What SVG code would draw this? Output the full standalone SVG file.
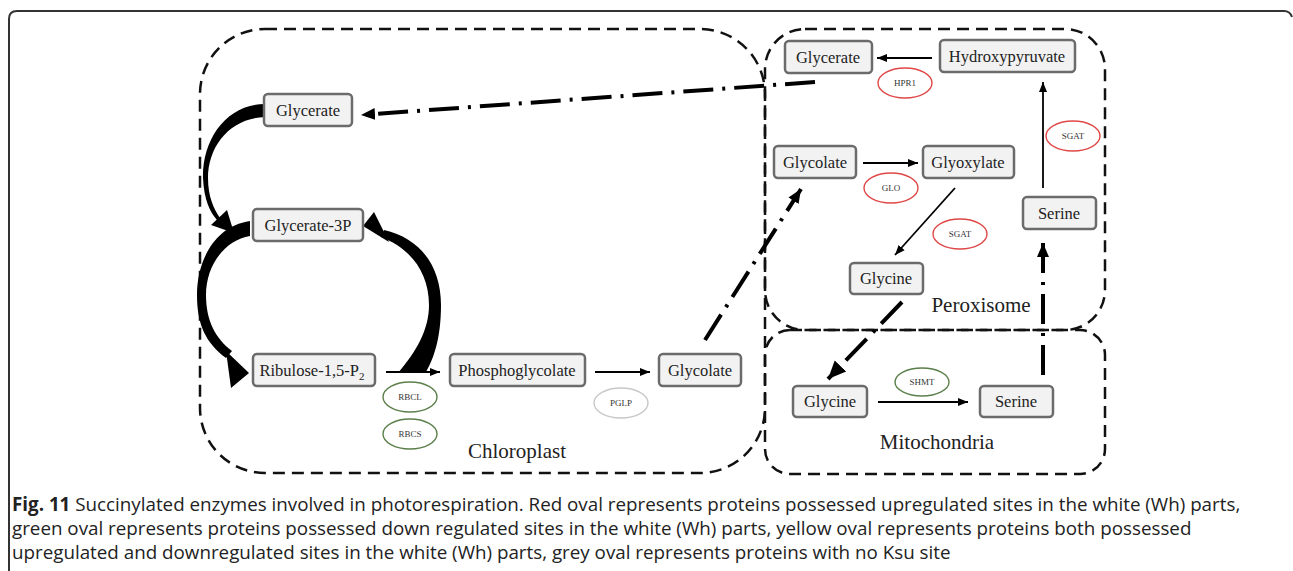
<svg xmlns="http://www.w3.org/2000/svg" width="1293" height="571" viewBox="0 0 1293 571">
<style>
.box{fill:#f2f2f2;stroke:#6b6b6b;stroke-width:2.5}
.bt{font-family:"Liberation Serif","Times New Roman",serif;font-size:16.5px;fill:#222;text-anchor:middle}
.region{fill:none;stroke:#111;stroke-width:2.5;stroke-dasharray:12 7}
.rl{font-family:"Liberation Serif","Times New Roman",serif;font-size:21px;fill:#222;text-anchor:middle}
.thin{fill:none;stroke:#000;stroke-width:1.8}
.dd{fill:none;stroke:#000;stroke-width:4;stroke-dasharray:30 9 3 9}
.red{fill:#fff;stroke:#e04848;stroke-width:1.4}
.green{fill:#fff;stroke:#5b7f4a;stroke-width:1.4}
.grey{fill:#fff;stroke:#c8c8c8;stroke-width:1.4}
.el{font-family:"Liberation Serif","Times New Roman",serif;font-size:9px;fill:#333;text-anchor:middle}
.cap{font-family:"Open Sans","Noto Sans","Liberation Sans",sans-serif;font-size:18.8px;fill:#222}
</style>
<defs>
<marker id="ah" markerUnits="userSpaceOnUse" markerWidth="12" markerHeight="10" refX="10" refY="5" orient="auto">
<path d="M0,1 L10,5 L0,9 Z" fill="#000"/>
</marker>
<marker id="ahd" markerUnits="userSpaceOnUse" markerWidth="16" markerHeight="14" refX="14" refY="7" orient="auto">
<path d="M0,1 L14,7 L0,13 Z" fill="#000"/>
</marker>
<marker id="ahd2" markerUnits="userSpaceOnUse" markerWidth="20" markerHeight="18" refX="18" refY="9" orient="auto">
<path d="M0,1 L18,9 L0,17 Z" fill="#000"/>
</marker>
</defs>
<rect width="1293" height="571" fill="#fff"/>
<path d="M9,571 L9,19 Q9,11 17,11 L1284,11 Q1290,11 1292,17" fill="none" stroke="#333" stroke-width="2"/>

<g id="regions">
<rect id="chloroplast" class="region" x="200" y="29" width="565" height="444" rx="65"/>
<rect id="peroxisome" class="region" x="765" y="29" width="340" height="301" rx="40"/>
<rect id="mitochondria" class="region" x="765" y="330" width="340" height="144" rx="25"/>
<text class="rl" x="517" y="458">Chloroplast</text>
<text class="rl" x="981" y="312">Peroxisome</text>
<text class="rl" x="937" y="449">Mitochondria</text>
</g>

<g id="connectors">
<path class="thin" d="M386,372 L440,372" marker-end="url(#ah)"/>
<path class="thin" d="M595,372 L650,372" marker-end="url(#ah)"/>
<path class="thin" d="M932,58 L877,58" marker-end="url(#ah)"/>
<path class="thin" d="M863,163 L918,163" marker-end="url(#ah)"/>
<path class="thin" d="M955,188 L895,255" marker-end="url(#ah)"/>
<path class="thin" d="M1043,188 L1043,82" marker-end="url(#ah)"/>
<path class="thin" d="M878,402 L968,402" marker-end="url(#ah)"/>
<path class="dd" d="M815,82 L361,115" marker-end="url(#ahd)"/>
<path class="dd" d="M705,340 L801,189" marker-end="url(#ahd)"/>
<path class="dd" d="M902,302 L828,379" marker-end="url(#ahd2)"/>
<path class="dd" d="M1043,375 L1043,243" marker-end="url(#ahd)"/>
<!-- thick curved arrows -->
<path d="M265,104 C226,104 202,140 203,178 C204,200 210,212 217,220 L220,218 C214,209 208,197 208,178 C208,146 230,118 265,117 Z" fill="#000"/>
<path d="M234,233 L211,225 L227,210 Z" fill="#000"/>
<path d="M250,221 C215,226 197,260 197,295 C197,325 206,343 226,358 L232,351 C215,338 206,320 206,295 C206,265 225,240 250,236 Z" fill="#000"/>
<path d="M249,373 L226,351 L231,388 Z" fill="#000"/>
<path d="M398,373 C416,352 429,330 429,305 C429,272 410,248 381,237 L384,230 C420,238 441,266 441,305 C441,338 434,358 426,372 Z" fill="#000"/>
<path d="M363,226 L374,212 L389,242 Z" fill="#000"/>
</g>

<g id="n-glycerate-c"><rect class="box" x="264" y="94" width="88" height="32" rx="4"/><text class="bt" x="308" y="115.5">Glycerate</text></g>
<g id="n-glycerate3p"><rect class="box" x="253" y="209" width="110" height="32" rx="4"/><text class="bt" x="308" y="230.5">Glycerate-3P</text></g>
<g id="n-ribulose"><rect class="box" x="253" y="354" width="122" height="32" rx="4"/><text class="bt" x="312" y="375.5">Ribulose-1,5-P<tspan font-size="11" dy="4">2</tspan></text></g>
<g id="n-phosphoglycolate"><rect class="box" x="450" y="354" width="135" height="32" rx="4"/><text class="bt" x="517" y="375.5">Phosphoglycolate</text></g>
<g id="n-glycolate-c"><rect class="box" x="659" y="354" width="82" height="32" rx="4"/><text class="bt" x="700" y="375.5">Glycolate</text></g>
<g id="n-glycerate-p"><rect class="box" x="785" y="41" width="87" height="32" rx="4"/><text class="bt" x="828" y="62.5">Glycerate</text></g>
<g id="n-hydroxypyruvate"><rect class="box" x="940" y="40" width="135" height="32" rx="4"/><text class="bt" x="1007" y="61.5">Hydroxypyruvate</text></g>
<g id="n-glycolate-p"><rect class="box" x="774" y="146" width="82" height="32" rx="4"/><text class="bt" x="815" y="167.5">Glycolate</text></g>
<g id="n-glyoxylate"><rect class="box" x="923" y="146" width="91" height="32" rx="4"/><text class="bt" x="968" y="167.5">Glyoxylate</text></g>
<g id="n-glycine-p"><rect class="box" x="850" y="263" width="73" height="31" rx="4"/><text class="bt" x="886" y="284">Glycine</text></g>
<g id="n-serine-p"><rect class="box" x="1023" y="197" width="73" height="32" rx="4"/><text class="bt" x="1059" y="218.5">Serine</text></g>
<g id="n-glycine-m"><rect class="box" x="793" y="386" width="74" height="31" rx="4"/><text class="bt" x="830" y="407">Glycine</text></g>
<g id="n-serine-m"><rect class="box" x="980" y="386" width="73" height="31" rx="4"/><text class="bt" x="1016" y="407">Serine</text></g>

<g id="e-rbcl"><ellipse class="green" cx="410" cy="397" rx="27" ry="15"/><text class="el" x="410" y="400">RBCL</text></g>
<g id="e-rbcs"><ellipse class="green" cx="410" cy="434" rx="27" ry="15"/><text class="el" x="410" y="437">RBCS</text></g>
<g id="e-pglp"><ellipse class="grey" cx="621" cy="403" rx="27" ry="15"/><text class="el" x="621" y="406">PGLP</text></g>
<g id="e-hpr1"><ellipse class="red" cx="905" cy="83" rx="27" ry="15"/><text class="el" x="905" y="86">HPR1</text></g>
<g id="e-glo"><ellipse class="red" cx="891" cy="188" rx="27" ry="15"/><text class="el" x="891" y="191">GLO</text></g>
<g id="e-sgat1"><ellipse class="red" cx="960" cy="234" rx="27" ry="15"/><text class="el" x="960" y="237">SGAT</text></g>
<g id="e-sgat2"><ellipse class="red" cx="1073" cy="136" rx="27" ry="15"/><text class="el" x="1073" y="139">SGAT</text></g>
<g id="e-shmt"><ellipse class="green" cx="922" cy="382" rx="27" ry="14"/><text class="el" x="922" y="385">SHMT</text></g>

<g id="caption">
<text class="cap" x="12" y="511"><tspan font-weight="bold">Fig. 11</tspan> Succinylated enzymes involved in photorespiration. Red oval represents proteins possessed upregulated sites in the white (Wh) parts,</text>
<text class="cap" x="12" y="535">green oval represents proteins possessed down regulated sites in the white (Wh) parts, yellow oval represents proteins both possessed</text>
<text class="cap" x="12" y="559">upregulated and downregulated sites in the white (Wh) parts, grey oval represents proteins with no Ksu site</text>
</g>
</svg>
